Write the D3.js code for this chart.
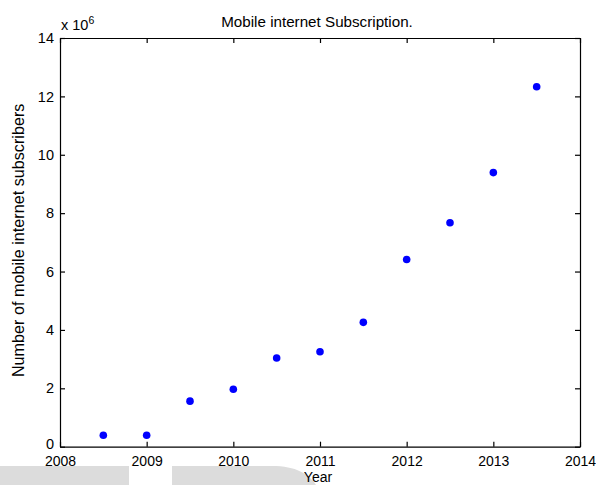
<!DOCTYPE html>
<html>
<head>
<meta charset="utf-8">
<script src="https://cdn.jsdelivr.net/npm/d3@7"></script>
<style>
  body { margin: 0; background: #fff; }
  svg { display: block; font-family: "Liberation Sans", Arial, sans-serif; }
</style>
</head>
<body>
<div id="chart"></div>
<script>
// values
const years = [2008.5, 2009, 2009.5, 2010, 2010.5, 2011, 2011.5, 2012, 2012.5, 2013, 2013.5];
const subscribers = [0.39e6, 0.39e6, 1.56e6, 1.97e6, 3.04e6, 3.25e6, 4.26e6, 6.41e6, 7.67e6, 9.39e6, 12.33e6];
const xTicks = [2008, 2009, 2010, 2011, 2012, 2013, 2014];
const yTicks = [0, 2e6, 4e6, 6e6, 8e6, 10e6, 12e6, 14e6];

const width = 596, height = 485;
const margin = { top: 38, right: 16, bottom: 38, left: 60 };

const svg = d3.select("#chart").append("svg")
  .attr("width", width)
  .attr("height", height);

// grey shapes from the page behind the figure
svg.append("rect")
  .attr("x", 0).attr("y", 466)
  .attr("width", 129).attr("height", 19)
  .attr("fill", "#dcdcdc");
svg.append("path")
  .attr("d", "M172,485V466H272C296,466 309,474 316,485Z")
  .attr("fill", "#dcdcdc");

const x = d3.scaleLinear()
  .domain([2008, 2014])
  .range([margin.left, width - margin.right]);

const y = d3.scaleLinear()
  .domain([0, 14e6])
  .range([height - margin.bottom - 0.3, margin.top]);

const fmtY = (d) => d / 1e6;
const tickFont = "14.5px";

// bottom + top
svg.append("g")
  .attr("transform", `translate(0,${y(0)})`)
  .call(d3.axisBottom(x).tickValues(xTicks).tickFormat(d3.format("d"))
    .tickSizeInner(-5).tickSizeOuter(0).tickPadding(9))
  .call((g) => g.selectAll("text").attr("font-size", "14px").attr("fill", "#000"));

svg.append("g")
  .attr("transform", `translate(0,${y(14e6)})`)
  .call(d3.axisTop(x).tickValues(xTicks).tickFormat("")
    .tickSizeInner(-5).tickSizeOuter(0));

// left + right
svg.append("g")
  .attr("transform", `translate(${x(2008)},0)`)
  .call(d3.axisLeft(y).tickValues(yTicks).tickFormat(fmtY)
    .tickSizeInner(-5).tickSizeOuter(0).tickPadding(6))
  .call((g) => g.selectAll("text").attr("font-size", tickFont).attr("fill", "#000"))
  // lift the "0" a little so it clears "2008"
  .call((g) => g.selectAll(".tick text").filter((d) => d === 0).attr("dy", "0.1em"));

svg.append("g")
  .attr("transform", `translate(${x(2014)},0)`)
  .call(d3.axisRight(y).tickValues(yTicks).tickFormat("")
    .tickSizeInner(-5).tickSizeOuter(0));

svg.selectAll(".domain, .tick line")
  .attr("stroke", "#000")
  .attr("stroke-width", 1.2);

// points
svg.append("g")
  .selectAll("circle")
  .data(years)
  .join("circle")
  .attr("cx", (d) => x(d))
  .attr("cy", (d, i) => y(subscribers[i]))
  .attr("r", 3.8)
  .attr("fill", "#0000ff");

// exponent
const expo = svg.append("text")
  .attr("x", x(2008) + 1)
  .attr("y", 30)
  .attr("font-size", tickFont);
expo.append("tspan").text("x 10");
expo.append("tspan").attr("dy", -6).attr("font-size", "10.5px").text("6");

// title
svg.append("text")
  .attr("x", (x(2008) + x(2014)) / 2 - 3)
  .attr("y", 27)
  .attr("text-anchor", "middle")
  .attr("font-size", "15.2px")
  .text("Mobile internet Subscription.");

// axis titles
svg.append("text")
  .attr("x", (x(2008) + x(2014)) / 2 - 2)
  .attr("y", 482)
  .attr("text-anchor", "middle")
  .attr("font-size", "14px")
  .text("Year");

svg.append("text")
  .attr("transform", `translate(24,${(y(0) + y(14e6)) / 2 - 2}) rotate(-90)`)
  .attr("text-anchor", "middle")
  .attr("font-size", "16.2px")
  .text("Number of mobile internet subscribers");
</script>
</body>
</html>
